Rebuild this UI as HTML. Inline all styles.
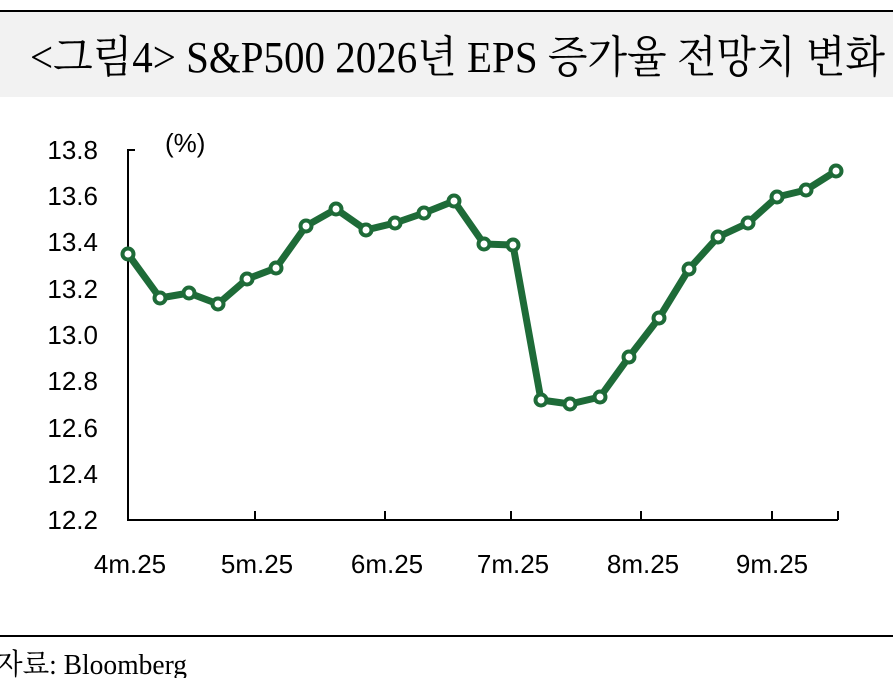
<!DOCTYPE html>
<html><head><meta charset="utf-8"><style>
body{margin:0;width:893px;height:678px;overflow:hidden;background:#fff;}
svg{display:block}
</style></head><body>
<svg width="893" height="678" xmlns="http://www.w3.org/2000/svg">
<rect x="0" y="12" width="893" height="85" fill="#f2f2f2"/>
<line x1="0" y1="11" x2="893" y2="11" stroke="#000" stroke-width="2"/>
<text x="30" y="72" font-family="Liberation Serif, 'Noto Serif CJK SC', serif" font-size="44" textLength="855" lengthAdjust="spacingAndGlyphs" fill="#000">&lt;그림4&gt; S&amp;P500 2026년 EPS 증가율 전망치 변화</text>
<g font-family="'Liberation Sans', sans-serif" font-size="26" fill="#000">
<text x="98" y="159" text-anchor="end">13.8</text>
<text x="98" y="205" text-anchor="end">13.6</text>
<text x="98" y="251" text-anchor="end">13.4</text>
<text x="98" y="298" text-anchor="end">13.2</text>
<text x="98" y="344" text-anchor="end">13.0</text>
<text x="98" y="390" text-anchor="end">12.8</text>
<text x="98" y="437" text-anchor="end">12.6</text>
<text x="98" y="483" text-anchor="end">12.4</text>
<text x="98" y="529" text-anchor="end">12.2</text>
<text x="165" y="152">(%)</text>
<text x="130" y="573" text-anchor="middle">4m.25</text>
<text x="257" y="573" text-anchor="middle">5m.25</text>
<text x="387" y="573" text-anchor="middle">6m.25</text>
<text x="513" y="573" text-anchor="middle">7m.25</text>
<text x="643" y="573" text-anchor="middle">8m.25</text>
<text x="772" y="573" text-anchor="middle">9m.25</text>
</g>
<g stroke="#000" stroke-width="2" fill="none">
<path d="M135 150 H128 V520 H838"/>
<path d="M255 520 V511 M385 520 V511 M511 520 V511 M641 520 V511 M772 520 V511 M838 520 V511"/>
</g>
<polyline fill="none" stroke="#1e6b38" stroke-width="7" stroke-linejoin="round" points="128,254 160,298 189,293 218,304 247,279 276,268 306,226 336,209 366,230 395,223 424,213 454,201 484,244 513,245 541,400 570,404 600,397 629,357 659,318 689,269 718,237 748,223 777,197 806,190 836,171"/>
<g fill="#fff" stroke="#1e6b38" stroke-width="4">
<circle cx="128" cy="254" r="5.5"/><circle cx="160" cy="298" r="5.5"/><circle cx="189" cy="293" r="5.5"/><circle cx="218" cy="304" r="5.5"/><circle cx="247" cy="279" r="5.5"/><circle cx="276" cy="268" r="5.5"/><circle cx="306" cy="226" r="5.5"/><circle cx="336" cy="209" r="5.5"/><circle cx="366" cy="230" r="5.5"/><circle cx="395" cy="223" r="5.5"/><circle cx="424" cy="213" r="5.5"/><circle cx="454" cy="201" r="5.5"/><circle cx="484" cy="244" r="5.5"/><circle cx="513" cy="245" r="5.5"/><circle cx="541" cy="400" r="5.5"/><circle cx="570" cy="404" r="5.5"/><circle cx="600" cy="397" r="5.5"/><circle cx="629" cy="357" r="5.5"/><circle cx="659" cy="318" r="5.5"/><circle cx="689" cy="269" r="5.5"/><circle cx="718" cy="237" r="5.5"/><circle cx="748" cy="223" r="5.5"/><circle cx="777" cy="197" r="5.5"/><circle cx="806" cy="190" r="5.5"/><circle cx="836" cy="171" r="5.5"/>
</g>
<line x1="0" y1="636" x2="893" y2="636" stroke="#000" stroke-width="2"/>
<text x="-4" y="674" font-family="Liberation Serif, 'Noto Serif CJK SC', serif" font-size="29" textLength="191" lengthAdjust="spacingAndGlyphs" fill="#000">자료: Bloomberg</text>
</svg>
</body></html>
